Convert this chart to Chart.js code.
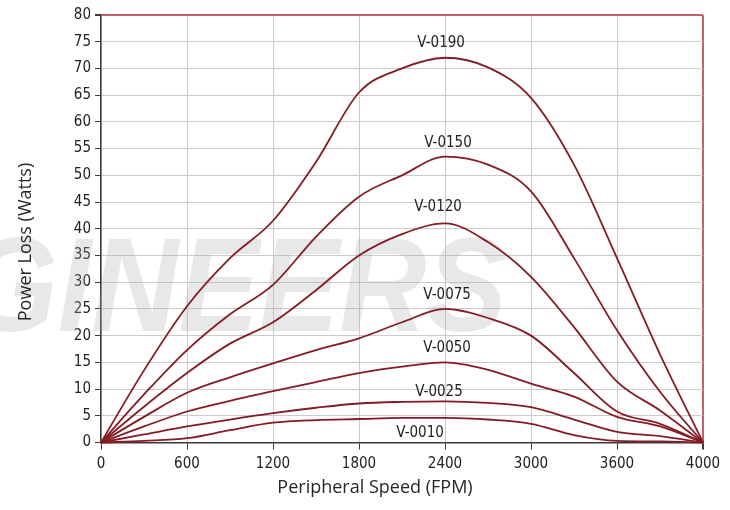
<!DOCTYPE html>
<html>
<head>
<meta charset="utf-8">
<script src="https://cdn.jsdelivr.net/npm/chart.js@4.4.1/dist/chart.umd.min.js"></script>
<style>
  html, body { margin: 0; padding: 0; background: #ffffff; }
  #wrap { width: 730px; height: 510px; }
</style>
</head>
<body>
<div id="wrap"><canvas id="c" width="730" height="510"></canvas></div>
<script>
// ---- data ----
const speeds = ['0','300','600','900','1200','1500','1800','2100','2400','2700','3000','3300','3600','3800','4000'];
const shownSpeedLabels = ['0','600','1200','1800','2400','3000','3600','4000'];
const seriesNames = ['V-0190','V-0150','V-0120','V-0075','V-0050','V-0025','V-0010'];
const v0190 = [0, 13.5, 25.5, 34.5, 41.5, 52.5, 65.5, 70, 72, 70.2, 64.5, 52, 34.5, 16.5, 0];
const v0150 = [0, 9, 17.3, 24, 29.5, 38.5, 46, 50, 53.5, 52, 47, 34.5, 21, 9.5, 0];
const v0120 = [0, 6.7, 13, 18.5, 22.5, 28.5, 35, 39, 41, 37.5, 31, 21.6, 11.4, 6, 0];
const v0075 = [0, 4.8, 9.3, 12.2, 14.8, 17.3, 19.5, 22.5, 25, 23.3, 20, 13, 5.8, 3.5, 0];
const v0050 = [0, 3, 5.8, 7.8, 9.6, 11.3, 13, 14.2, 15, 13.6, 11, 8.6, 4.8, 3, 0];
const v0025 = [0, 1.5, 3, 4.3, 5.5, 6.5, 7.3, 7.6, 7.7, 7.4, 6.6, 4.3, 2, 1.2, 0];
const v0010 = [0, 0.3, 0.8, 2.3, 3.7, 4.2, 4.4, 4.6, 4.6, 4.3, 3.5, 1.4, 0.3, 0.2, 0];
const yTicks = [0,5,10,15,20,25,30,35,40,45,50,55,60,65,70,75,80];
// curve label anchors in data space (category index, watts)
const labelIndex = [7.91, 8.07, 7.84, 8.05, 8.05, 7.86, 7.42];
const labelWatts = [74.7, 56, 44, 27.6, 17.7, 9.4, 1.8];

const allSeries = [v0190, v0150, v0120, v0075, v0050, v0025, v0010];
const NARROW = "'Liberation Sans Narrow', 'DejaVu Sans Condensed', 'Arial Narrow', sans-serif";
const SANS = "'Open Sans', 'Noto Sans', sans-serif";
const CURVE = '#841c24';
const FRAME = '#c4606a';
const GRID = '#cbcbcb';
const AXIS = '#3a3a3a';

Chart.defaults.font.family = NARROW;

const decor = {
  id: 'decor',
  beforeDatasetsDraw(chart) {
    const ctx = chart.ctx;
    ctx.save();
    ctx.translate(-36, 331);
    ctx.scale(0.9, 1);
    ctx.font = "italic bold 134px 'Liberation Sans', sans-serif";
    ctx.fillStyle = 'rgba(170,170,170,0.27)';
    ctx.textBaseline = 'alphabetic';
    ctx.fillText('GINEERS', 0, 0);
    ctx.restore();
  },
  afterDatasetsDraw(chart) {
    const ctx = chart.ctx;
    const xs = chart.scales.x, ys = chart.scales.y;
    ctx.save();
    ctx.font = "15px " + NARROW;
    ctx.fillStyle = '#222';
    ctx.textAlign = 'center';
    ctx.textBaseline = 'middle';
    seriesNames.forEach((n, i) => {
      ctx.fillText(n, xs.getPixelForValue(labelIndex[i]), ys.getPixelForValue(labelWatts[i]));
    });
    // axis titles
    ctx.font = "18px " + SANS;
    ctx.fillStyle = '#262626';
    ctx.fillText('Peripheral Speed (FPM)', 375, 488);
    ctx.translate(26, 242);
    ctx.rotate(-Math.PI / 2);
    ctx.fillText('Power Loss (Watts)', 0, 0);
    ctx.restore();
  }
};

const datasets = seriesNames.map((n, i) => ({
  label: n,
  data: allSeries[i],
  borderColor: CURVE,
  borderWidth: 1.8,
  pointRadius: 0,
  fill: false,
  cubicInterpolationMode: 'monotone',
  clip: false
}));

new Chart(document.getElementById('c'), {
  type: 'line',
  data: { labels: speeds, datasets },
  plugins: [decor],
  options: {
    responsive: false,
    animation: false,
    devicePixelRatio: 1,
    layout: { padding: { top: 15, right: 27, left: 0, bottom: 0 } },
    plugins: { legend: { display: false }, tooltip: { enabled: false }, title: { display: false } },
    scales: {
      x: {
        type: 'category',
        offset: false,
        afterFit(s) { s.height = 67.5; },
        border: { display: true, color: AXIS, width: 1.5 },
        grid: {
          color: c => c.index === speeds.length - 1 ? FRAME : (shownSpeedLabels.includes(speeds[c.index]) ? GRID : 'rgba(0,0,0,0)'),
          lineWidth: c => c.index === speeds.length - 1 ? 2 : 1,
          tickColor: c => shownSpeedLabels.includes(speeds[c.index]) ? AXIS : 'rgba(0,0,0,0)',
          tickLength: 7,
          drawTicks: true
        },
        ticks: {
          autoSkip: false,
          maxRotation: 0,
          padding: 6,
          color: '#222',
          font: { size: 15, family: NARROW },
          callback: (v, i) => shownSpeedLabels.includes(speeds[i]) ? speeds[i] : ''
        },
        title: { display: false }
      },
      y: {
        type: 'linear',
        min: 0, max: 80,
        afterFit(s) { s.width = 101; },
        afterBuildTicks(s) { s.ticks = yTicks.map(v => ({ value: v })); },
        border: { display: true, color: AXIS, width: 1.5 },
        grid: {
          color: c => c.tick && c.tick.value === 80 ? FRAME : GRID,
          lineWidth: c => c.tick && c.tick.value === 80 ? 2 : 1,
          tickColor: AXIS,
          tickLength: 6
        },
        ticks: {
          padding: 4,
          color: '#222',
          font: { size: 15, family: NARROW }
        },
        title: { display: false }
      }
    }
  }
});
</script>
</body>
</html>
